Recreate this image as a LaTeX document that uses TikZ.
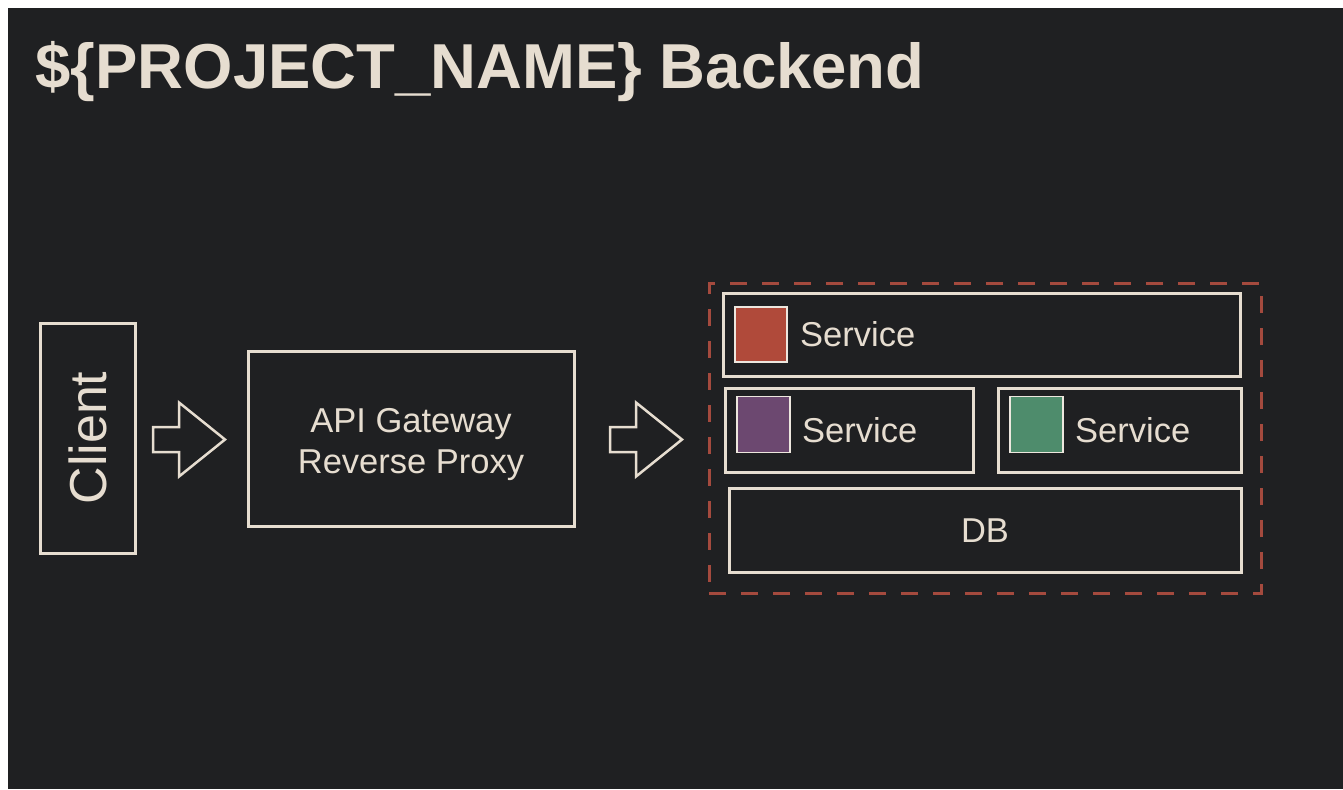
\documentclass[tikz,border=0pt]{standalone}
\usepackage{fontspec}
\setmainfont{Liberation Sans}
\usepackage{tikz}
\usetikzlibrary{positioning}

\definecolor{bgdark}{RGB}{31,32,34}
\definecolor{chalk}{RGB}{230,221,208}
\definecolor{dashred}{RGB}{164,74,62}
\definecolor{svcred}{RGB}{176,74,58}
\definecolor{svcpurple}{RGB}{108,72,112}
\definecolor{svcgreen}{RGB}{78,140,108}

\begin{document}
\begin{tikzpicture}[x=0.5pt, y=-0.5pt,
        box/.style={draw=chalk, line width=1.5pt, inner sep=0pt, text=chalk},
        swatch/.style={draw=chalk!70, line width=0.8pt, inner sep=0pt, minimum width=26.5pt, minimum height=28pt},
        svclabel/.style={inner sep=0pt, text=chalk, font=\fontsize{17.25}{20.5}\selectfont},
        blockarrow/.style={draw=chalk, line width=1.25pt, line join=miter}]

        \useasboundingbox (0,0) rectangle (1343,789);

        % slide background
        \path[fill=white] (0,0) rectangle (1343,789);
        \path[fill=bgdark] (8,8) rectangle (1343,789);

        \coordinate (head) at (35,88);
        \coordinate (arrowa) at (153,439.5);
        \coordinate (arrowb) at (610,439.5);

        \node[anchor=base west, inner sep=0pt, text=chalk, font=\fontsize{31.75}{38}\selectfont\bfseries] (title) at (head) {\$\{PROJECT\_NAME\} Backend};

        \node[box, minimum width=47.5pt, minimum height=115pt] (client) at (88,438) {\rotatebox{90}{\fontsize{26}{30}\selectfont Client}};
        \node[box, minimum width=163pt, minimum height=87.5pt] (gateway) at (411,438.5) {};
        \node[svclabel, align=center] (gwtext) at ([yshift=-3pt]gateway.center) {API Gateway\\Reverse Proxy};

        % backend group
        \node[draw=dashred, line width=1.5pt, dash pattern=on 8.5pt off 7.5pt, inner sep=0pt, minimum width=276pt, minimum height=155pt] (backend) at (985,438) {};
        \node[box, minimum width=258.5pt, minimum height=41.5pt] (svcbox1) at (981.5,334.5) {};
        \node[box, minimum width=124pt, minimum height=42pt] (svcbox2) at (849,430) {};
        \node[box, minimum width=121.5pt, minimum height=42pt] (svcbox3) at (1119.5,430) {};
        \node[box, minimum width=256pt, minimum height=42pt, font=\fontsize{17.25}{21}\selectfont] (db) at (985,530.5) {DB};

        \node[swatch, fill=svcred, minimum width=26pt, minimum height=27.5pt] (red) at (761,334.5) {};
        \node[swatch, fill=svcpurple] (purple) at (763.5,424.5) {};
        \node[swatch, fill=svcgreen] (green) at (1036.5,424.5) {};

        \node[svclabel, right=6pt of red] (svc1) {Service};
        \node[svclabel, right=5.5pt of purple, yshift=-3pt] (svc2) {Service};
        \node[svclabel, right=5.5pt of green, yshift=-3pt] (svc3) {Service};

        % hollow arrows
        \path[blockarrow] (arrowa) ++(0,-12.5) -- ++(26,0) -- ++(0,-24.5) -- ++(46,37) -- ++(-46,37) -- ++(0,-24.5) -- ++(-26,0) -- cycle;
        \path[blockarrow] (arrowb) ++(0,-12.5) -- ++(26,0) -- ++(0,-24.5) -- ++(46,37) -- ++(-46,37) -- ++(0,-24.5) -- ++(-26,0) -- cycle;

\end{tikzpicture}
\end{document}
